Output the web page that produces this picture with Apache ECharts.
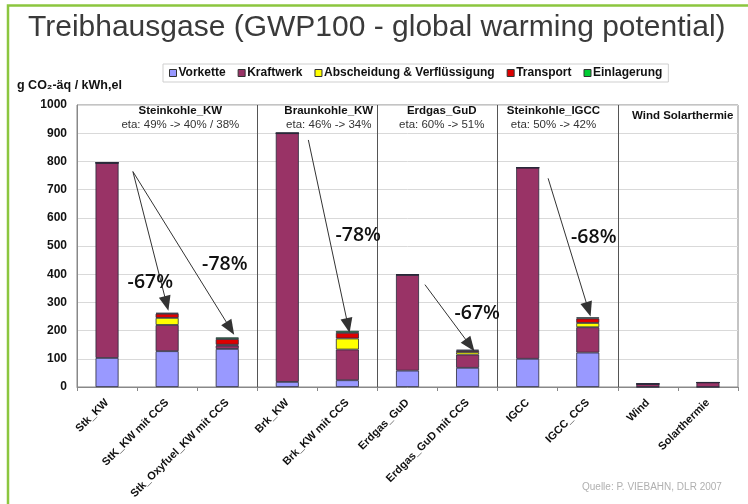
<!DOCTYPE html>
<html>
<head>
<meta charset="utf-8">
<script src="https://cdn.jsdelivr.net/npm/echarts@6/dist/echarts.min.js"></script>
<style>
html,body{margin:0;padding:0;background:#fff;}
#c{width:748px;height:504px;}
</style>
</head>
<body>
<div id="c"></div>
<script>
const categories = ['Stk_KW','StK_KW mit CCS','Stk_Oxyfuel_KW mit CCS','Brk_KW','Brk_KW mit CCS','Erdgas_GuD','Erdgas_GuD mit CCS','IGCC','IGCC_CCS','Wind','Solarthermie'];
const seriesNames = ['Vorkette','Kraftwerk','Abscheidung & Verflüssigung','Transport','Einlagerung'];
const vorkette    = [103, 127, 135,  18,  24,  58,  68, 100, 122,  0,  0];
const kraftwerk   = [692,  93,  12, 882, 109, 340,  47, 678,  90, 11, 16];
const abscheidung = [  0,  25,   3,   0,  39,   0,   9,   0,  15,  0,  0];
const transport   = [  0,  15,  20,   0,  20,   0,   5,   0,  16,  0,  0];
const einlagerung = [  0,   3,   6,   0,   7,   0,   3,   0,   4,  0,  0];
const yTicks = [0,100,200,300,400,500,600,700,800,900,1000];

// group separators (category boundaries) and group labels
const separators = [3, 5, 7, 9];
const groupTitles = [
  {x: 1.72, y: 978, t: 'Steinkohle_KW'},
  {x: 4.19, y: 978, t: 'Braunkohle_KW'},
  {x: 6.07, y: 978, t: 'Erdgas_GuD'},
  {x: 7.93, y: 978, t: 'Steinkohle_IGCC'},
  {x: 10.08, y: 961, t: 'Wind Solarthermie'}
];
const groupEta = [
  {x: 1.72, y: 929, t: 'eta: 49% -> 40% / 38%'},
  {x: 4.19, y: 929, t: 'eta: 46% -> 34%'},
  {x: 6.07, y: 929, t: 'eta: 60% -> 51%'},
  {x: 7.93, y: 929, t: 'eta: 50% -> 42%'}
];
// reduction arrows [x1,y1,x2,y2] in (category-slot, value) units
const arrows = [
  [0.93, 764, 1.49, 296],
  [0.93, 764, 2.55, 208],
  [3.85, 876, 4.51, 218],
  [5.79, 363, 6.54, 148],
  [7.84, 740, 8.51, 275]
];
const pctLabels = [
  {x: 1.22, y: 370, t: '-67%'},
  {x: 2.46, y: 435, t: '-78%'},
  {x: 4.68, y: 536, t: '-78%'},
  {x: 6.66, y: 262, t: '-67%'},
  {x: 8.60, y: 532, t: '-68%'}
];

const colors = ['#9999FF','#993366','#FFFF00','#DD0000','#00CC33'];
const valueSets = [vorkette, kraftwerk, abscheidung, transport, einlagerung];
const FONT = "'Liberation Sans', Arial, sans-serif";

const barSeries = seriesNames.map((n, i) => ({
  name: n,
  type: 'bar',
  stack: 'total',
  barWidth: 23,
  data: valueSets[i],
  itemStyle: {color: colors[i], borderColor: '#2a2a3a', borderWidth: 0.8},
  emphasis: {disabled: true}
}));

const overlay = {
  type: 'line',
  xAxisIndex: 1,
  yAxisIndex: 0,
  data: [],
  silent: true,
  markLine: {
    silent: true,
    animation: false,
    label: {show: false},
    data: [
      ...separators.map(s => ({xAxis: s, symbol: 'none', lineStyle: {color: '#555', width: 1, type: 'solid'}})),
      ...arrows.map(a => [
        {coord: [a[0], a[1]], symbol: 'none', lineStyle: {color: '#333', width: 1, type: 'solid'}},
        {coord: [a[2], a[3]], symbol: 'triangle', symbolSize: [12, 15]}
      ])
    ],
    symbol: ['none', 'none']
  },
  markPoint: {
    silent: true,
    animation: false,
    symbolSize: 0,
    data: [
      ...groupTitles.map(g => ({coord: [g.x, g.y], value: g.t, label: {show: true, position: 'inside', formatter: g.t, fontFamily: FONT, fontWeight: 'bold', fontSize: 11.5, color: '#111'}})),
      ...groupEta.map(g => ({coord: [g.x, g.y], value: g.t, label: {show: true, position: 'inside', formatter: g.t, fontFamily: FONT, fontSize: 11.5, color: '#333'}})),
      ...pctLabels.map(g => ({coord: [g.x, g.y], value: g.t, label: {show: true, position: 'inside', formatter: g.t, fontFamily: "'Open Sans', sans-serif", fontWeight: 600, fontSize: 19.5, color: '#111'}}))
    ]
  }
};

const chart = echarts.init(document.getElementById('c'), null, {renderer: 'canvas'});
chart.setOption({
  animation: false,
  backgroundColor: '#fff',
  title: {
    text: 'Treibhausgase (GWP100 - global warming potential)',
    left: 23, top: 8,
    textStyle: {fontFamily: FONT, fontWeight: 'normal', fontSize: 30, color: '#3a3a3a'}
  },
  legend: {
    data: seriesNames,
    left: 163, top: 64,
    icon: 'rect',
    itemWidth: 7, itemHeight: 7, itemGap: 12,
    padding: [3, 6, 3, 6],
    borderColor: '#cfcfcf', borderWidth: 1,
    itemStyle: {borderColor: '#333', borderWidth: 1},
    textStyle: {fontFamily: FONT, fontWeight: 'bold', fontSize: 12, color: '#111', padding: [0,0,0,-3]}
  },
  grid: {left: 77, top: 105, right: 10, bottom: 117, show: true, borderColor: '#888', borderWidth: 1, backgroundColor: '#fff'},
  xAxis: [
    {
      type: 'category', data: categories,
      axisLine: {lineStyle: {color: '#888'}},
      axisTick: {show: true, length: 4, lineStyle: {color: '#888'}},
      axisLabel: {rotate: 45, interval: 0, fontFamily: FONT, fontWeight: 'bold', fontSize: 11, color: '#111', margin: 14}
    },
    {type: 'value', min: 0, max: 11, show: false}
  ],
  yAxis: {
    type: 'value', min: yTicks[0], max: yTicks[yTicks.length-1], interval: 100,
    axisLine: {show: true, lineStyle: {color: '#888'}},
    axisTick: {show: false},
    axisLabel: {fontFamily: FONT, fontWeight: 'bold', fontSize: 12, color: '#111', margin: 10, formatter: v => String(v)},
    splitLine: {lineStyle: {color: '#d9d9d9'}}
  },
  graphic: [
    {type: 'polyline', shape: {points: [[8, 504], [8, 5.5], [748, 5.5]]}, style: {stroke: '#8CC63F', lineWidth: 2.5, fill: null}},
    {type: 'text', left: 17, top: 79, style: {text: 'g CO₂-äq / kWh,el', font: "bold 12.5px 'Liberation Sans', Arial", fill: '#111'}},
    {type: 'text', left: 582, top: 482, style: {text: 'Quelle: P. VIEBAHN, DLR 2007', font: "10px 'Liberation Sans Narrow', 'Liberation Sans', Arial", fill: '#b0b0b0'}}
  ],
  series: [...barSeries, overlay]
});
</script>
</body>
</html>
